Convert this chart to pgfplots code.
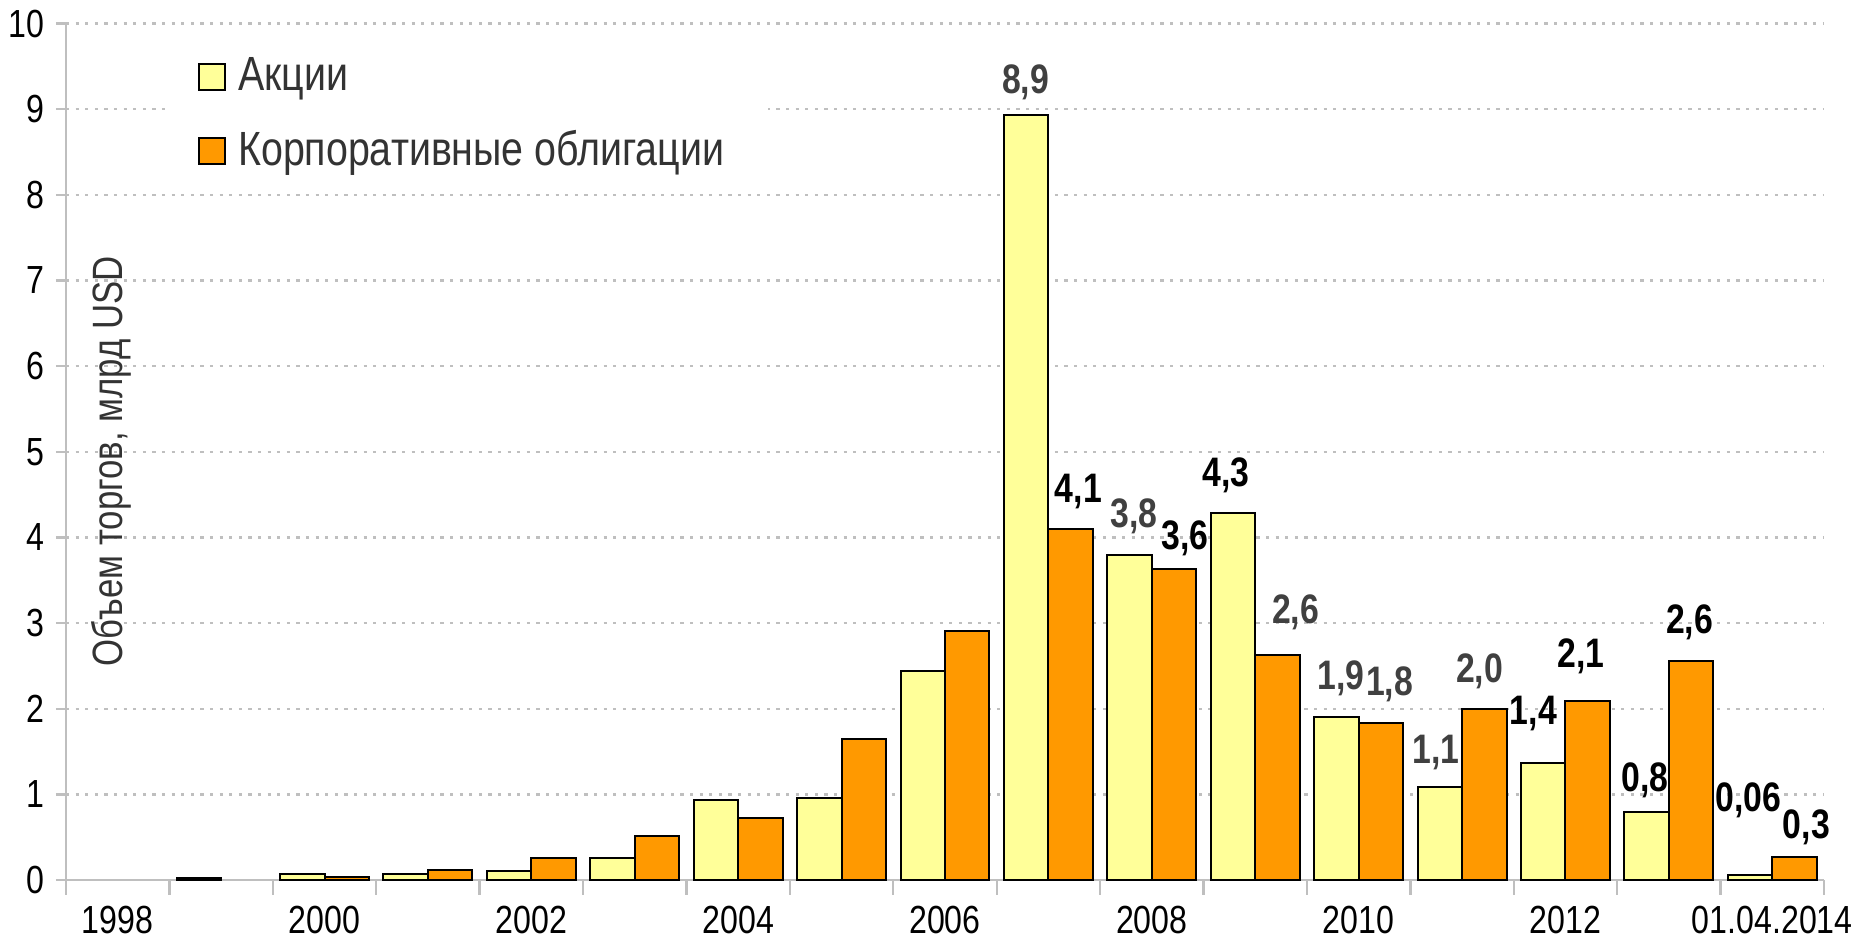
\documentclass[border=0pt]{standalone}
\usepackage{fontspec}
\setmainfont{Liberation Sans}[FakeStretch=0.82]
\usepackage{pgfplots}
\pgfplotsset{compat=1.18}
\definecolor{yel}{HTML}{FFFF99}
\definecolor{org}{HTML}{FF9900}
\definecolor{gridc}{HTML}{BFBFBF}
\definecolor{dg}{HTML}{404040}
\definecolor{lg}{HTML}{333333}
\begin{document}
\begin{tikzpicture}
\path[use as bounding box] (-16.5pt,-14.25pt) rectangle (446.75pt,220pt);
\begin{axis}[
  at={(0,0)}, anchor=south west, clip=false,
  scale only axis, width=439.5pt, height=214.1pt,
  xmin=-0.5, xmax=16.5, ymin=0, ymax=10,
  ybar=0pt, bar width=0.43,
  axis x line*=bottom, axis y line*=left,
  axis line style={gridc, line width=0.6pt},
  xtick={0,2,...,16},
  xticklabels={1998,2000,2002,2004,2006,2008,2010,2012,01.04.2014},
  minor xtick={-0.5,0.5,...,16.5},
  major x tick style={draw=none},
  minor x tick style={gridc, line width=0.6pt},
  ytick={0,1,...,10},
  major y tick style={gridc, line width=0.6pt},
  tick align=outside,
  major tick length=2.5pt, minor tick length=3.7pt,
  ymajorgrids,
  grid style={gridc, line width=0.6pt, dash pattern=on 0.8pt off 1.6pt},
  tick label style={font=\fontsize{9.8}{10}\selectfont, text=black},
  yticklabel style={xshift=0.6pt},
  xticklabel style={yshift=-0.6pt},
  /pgf/number format/assume math mode=true,
  legend style={at={(rel axis cs:0.0563,0.985)}, anchor=north west,
    draw=none, fill=white, inner xsep=8pt, inner ysep=3pt,
    font=\fontsize{12}{13}\selectfont, text=lg, row sep=4.6pt,
    legend cell align=left, nodes={inner xsep=3pt}},
  legend image code/.code={\draw[#1,draw=black,line width=0.5pt] (0pt,-3.3pt) rectangle (6.6pt,3.3pt);},
]
\addplot[fill=yel, draw=black, line width=0.5pt] coordinates {
 (1,0.025)(2,0.07)(3,0.065)(4,0.11)(5,0.26)(6,0.93)(7,0.96)(8,2.44)
 (9,8.93)(10,3.79)(11,4.28)(12,1.90)(13,1.08)(14,1.37)(15,0.79)(16,0.06)};
\addlegendentry{Акции}
\addplot[fill=org, draw=black, line width=0.5pt] coordinates {
 (2,0.03)(3,0.12)(4,0.26)(5,0.51)(6,0.72)(7,1.65)(8,2.91)
 (9,4.10)(10,3.63)(11,2.63)(12,1.83)(13,2.00)(14,2.09)(15,2.56)(16,0.27)};
\addlegendentry{Корпоративные облигации}
\begin{scope}[every node/.style={font=\fontsize{10.3}{11}\bfseries\selectfont, inner sep=0pt}]
\node[text=dg] at (axis cs:8.78,9.31) {8,9};
\node[text=black] at (axis cs:9.29,4.54) {4,1};
\node[text=dg] at (axis cs:9.83,4.25) {3,8};
\node[text=black] at (axis cs:10.32,3.99) {3,6};
\node[text=black] at (axis cs:10.72,4.73) {4,3};
\node[text=dg] at (axis cs:11.39,3.13) {2,6};
\node[text=dg] at (axis cs:11.83,2.36) {1,9};
\node[text=dg] at (axis cs:12.30,2.28) {1,8};
\node[text=dg] at (axis cs:12.75,1.49) {1,1};
\node[text=dg] at (axis cs:13.17,2.44) {2,0};
\node[text=black] at (axis cs:13.69,1.94) {1,4};
\node[text=black] at (axis cs:14.15,2.61) {2,1};
\node[text=black] at (axis cs:14.77,1.16) {0,8};
\node[text=black] at (axis cs:15.20,3.01) {2,6};
\node[text=black] at (axis cs:15.77,0.93) {0,06};
\node[text=black] at (axis cs:16.33,0.61) {0,3};
\end{scope}
\node[rotate=90, font=\fontsize{10.6}{12}\selectfont, text=lg] at (axis cs:-0.06,4.89) {Объем торгов, млрд USD};
\end{axis}
\end{tikzpicture}
\end{document}
